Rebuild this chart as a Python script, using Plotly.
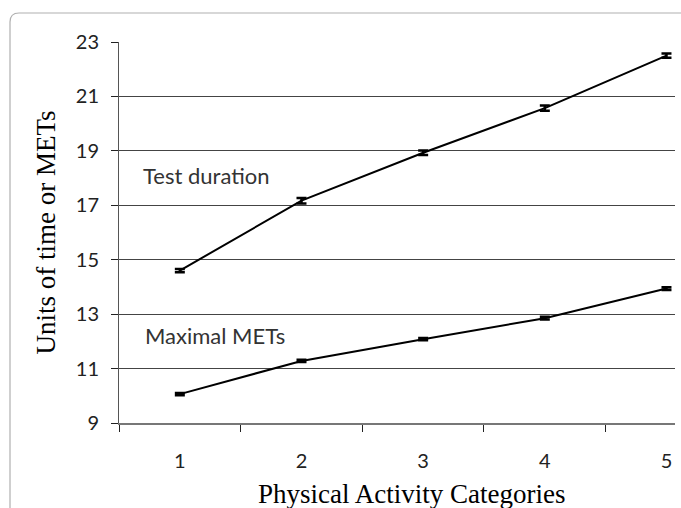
import plotly.graph_objects as go

categories = ["1", "2", "3", "4", "5"]
test_duration = [14.6, 17.17, 18.93, 20.57, 22.5]
test_duration_err = [0.06, 0.1, 0.08, 0.1, 0.08]
maximal_mets = [10.06, 11.28, 12.08, 12.85, 13.94]
maximal_mets_err = [0.04, 0.04, 0.04, 0.05, 0.05]
y_ticks = [9, 11, 13, 15, 17, 19, 21, 23]

W, H = 681, 508
L, R, T, B = 119, 6, 42, 85
pw, ph = W - L - R, H - T - B

def px(x):
    return (x - L) / pw

def py(y):
    return (H - B - y) / ph

fig = go.Figure()
for vals, err in [(test_duration, test_duration_err), (maximal_mets, maximal_mets_err)]:
    fig.add_trace(go.Scatter(
        x=categories, y=vals, mode="lines",
        line=dict(color="black", width=2),
        error_y=dict(type="data", array=err, visible=True, color="black", thickness=2.5, width=5),
        showlegend=False, hoverinfo="skip",
    ))

# rounded frame
r = 9
x0, y0, x1, y1 = 10, 13, 700, 530
path = (f"M {px(x0)},{py(y1)} L {px(x0)},{py(y0 + r)} "
        f"Q {px(x0)},{py(y0)} {px(x0 + r)},{py(y0)} L {px(x1)},{py(y0)}")
fig.add_shape(type="path", path=path, xref="paper", yref="paper",
              line=dict(color="#b0b0b0", width=1.2), layer="below")

fig.add_annotation(text="Test duration", x=px(141), y=18.1, xref="paper", yref="y",
                   xanchor="left", yanchor="middle", showarrow=False,
                   font=dict(family="Lato", size=22, color="#333"))
fig.add_annotation(text="Maximal METs", x=px(143), y=12.2, xref="paper", yref="y",
                   xanchor="left", yanchor="middle", showarrow=False,
                   font=dict(family="Lato", size=22, color="#333"))
# x-axis title (offset to the right of the plot centre, as in the reference)
fig.add_annotation(text="Physical Activity Categories", x=px(411), y=py(494),
                   xref="paper", yref="paper", xanchor="center", yanchor="middle",
                   showarrow=False,
                   font=dict(family="Liberation Serif", size=27, color="black"))

fig.update_layout(
    width=W, height=H,
    margin=dict(l=L, r=R, t=T, b=B, autoexpand=False),
    paper_bgcolor="white", plot_bgcolor="white",
    xaxis=dict(
        type="category", range=[-0.5, 4.07], tickson="boundaries",
        ticks="outside", ticklen=7, tickcolor="#222", tickwidth=1,
        showline=True, linecolor="#777", linewidth=1.5,
        showgrid=False, zeroline=False,
        ticklabelstandoff=19,
        tickfont=dict(family="Lato", size=20, color="#222"),
    ),
    yaxis=dict(
        range=[9, 23], tickvals=y_ticks,
        ticks="outside", ticklen=7, tickcolor="#222", tickwidth=1,
        showline=True, linecolor="#555", linewidth=1,
        showgrid=True, gridcolor="#444", gridwidth=1,
        zeroline=False,
        ticklabelstandoff=8,
        tickfont=dict(family="Lato", size=20, color="#222"),
        title=dict(text="Units of time or METs",
                   font=dict(family="Liberation Serif", size=27, color="black"),
                   standoff=12),
    ),
)

fig.write_html("out.html")
